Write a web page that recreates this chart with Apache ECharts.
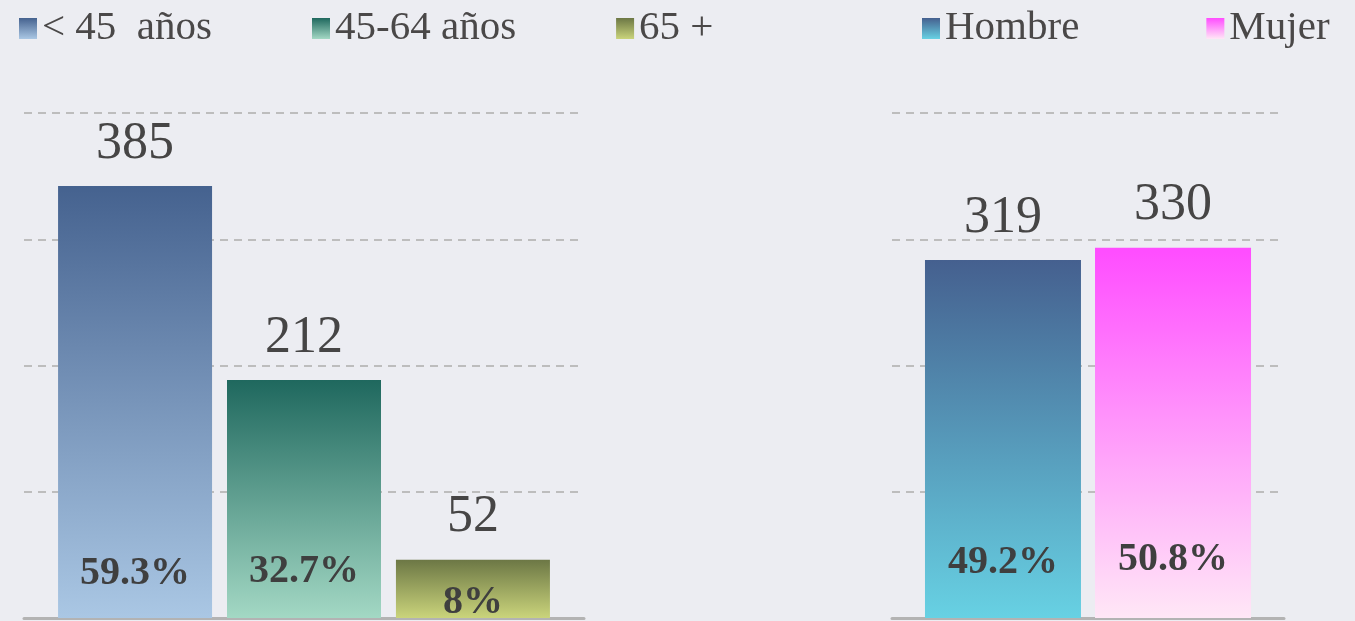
<!DOCTYPE html>
<html>
<head>
<meta charset="utf-8">
<script src="https://cdn.jsdelivr.net/npm/echarts@6/dist/echarts.min.js"></script>
<style>
  html, body { margin: 0; padding: 0; background: #ecedf2; }
  #chart { width: 1355px; height: 621px; }
</style>
</head>
<body>
<div id="chart"></div>
<script>
// data
const ageNames = ["< 45  años", "45-64 años", "65 +"];
const ageValues = [385, 212, 52];
const agePercents = ["59.3%", "32.7%", "8%"];

const sexNames = ["Hombre", "Mujer"];
const sexValues = [319, 330];
const sexPercents = ["49.2%", "50.8%"];

// styles (top colour, bottom colour) per bar
const ageColors = [["#45628f", "#aac7e4"], ["#1f685e", "#a3d8c4"], ["#6c7745", "#cad47b"]];
const sexColors = [["#45608f", "#67d1e3"], ["#ff4cff", "#ffe7f6"]];
// how far the percent text sits above the baseline
const ageLift = [24, 26, -5];
const sexLift = [35, 38];

const font = "'Liberation Serif', 'DejaVu Serif', serif";

const chart = echarts.init(document.getElementById("chart"));

function grad(c) {
  return {
    type: "linear", x: 0, y: 0, x2: 0, y2: 1,
    colorStops: [{ offset: 0, color: c[0] }, { offset: 1, color: c[1] }],
  };
}

function makeSeries(names, values, percents, colors, lifts, g, barWidth, barGap) {
  let list = [];
  names.forEach((n, i) => {
    list.push({
      name: n,
      type: "bar",
      xAxisIndex: g * 2,
      yAxisIndex: g,
      barWidth: barWidth,
      barGap: barGap,
      data: [values[i]],
      itemStyle: { color: grad(colors[i]) },
      label: {
        show: true,
        position: "top",
        distance: 16,
        fontFamily: font,
        fontSize: 52,
        color: "#464545",
      },
    });
  });
  // invisible copies that only carry the percent text
  names.forEach((n, i) => {
    list.push({
      name: "pct " + n,
      type: "bar",
      silent: true,
      xAxisIndex: g * 2 + 1,
      yAxisIndex: g,
      barWidth: barWidth,
      barGap: barGap,
      data: [values[i]],
      itemStyle: { color: "transparent" },
      label: {
        show: true,
        position: "insideBottom",
        distance: lifts[i],
        formatter: percents[i],
        fontFamily: font,
        fontWeight: "bold",
        fontSize: 40,
        color: "#3f3f3f",
      },
    });
  });
  return list;
}

const yAxisBase = {
  type: "value",
  min: 0,
  max: 450,
  interval: 112.5,
  axisLabel: { show: false },
  axisLine: { show: false },
  axisTick: { show: false },
  splitLine: { lineStyle: { color: "#bdbdbd", width: 2, type: [8, 6] } },
};

const xMain = (g) => ({
  type: "category",
  gridIndex: g,
  data: [""],
  axisTick: { show: false },
  axisLabel: { show: false },
  axisLine: { lineStyle: { color: "#b3b3b3", width: 3 } },
});
const xHidden = (g) => ({ type: "category", gridIndex: g, data: [""], show: false });

const legendText = { fontFamily: font, fontSize: 41, color: "#4a4848" };

var option = {
  backgroundColor: "#ecedf2",
  animation: false,
  legend: [
    {
      data: ageNames,
      left: 19,
      top: 8,
      padding: 0,
      itemWidth: 18,
      itemHeight: 21,
      itemGap: 100,
      icon: "rect",
      textStyle: legendText,
    },
    {
      data: sexNames,
      left: 922,
      top: 8,
      padding: 0,
      itemWidth: 18,
      itemHeight: 21,
      itemGap: 127,
      icon: "rect",
      textStyle: legendText,
    },
  ],
  grid: [
    { left: 24, width: 560, top: 113, height: 505 },
    { left: 892, width: 392, top: 113, height: 505 },
  ],
  xAxis: [xMain(0), xHidden(0), xMain(1), xHidden(1)],
  yAxis: [Object.assign({ gridIndex: 0 }, yAxisBase), Object.assign({ gridIndex: 1 }, yAxisBase)],
  series: [
    ...makeSeries(ageNames, ageValues, agePercents, ageColors, ageLift, 0, 154, "9.7%"),
    ...makeSeries(sexNames, sexValues, sexPercents, sexColors, sexLift, 1, 156, "9%"),
  ],
};

chart.setOption(option);
</script>
</body>
</html>
